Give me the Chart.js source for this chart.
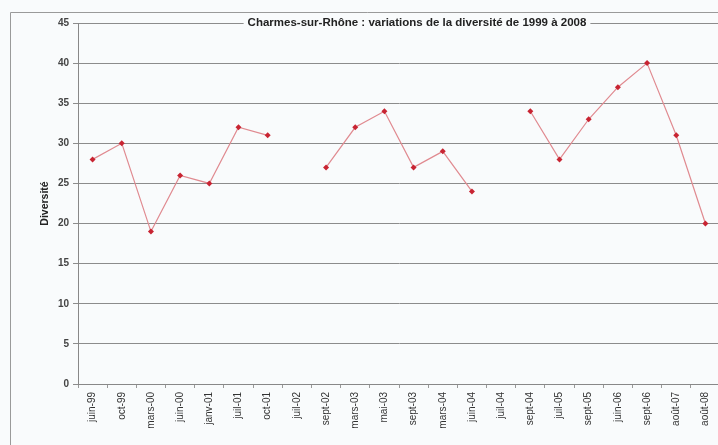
<!DOCTYPE html>
<html>
<head>
<meta charset="utf-8">
<script src="https://cdn.jsdelivr.net/npm/chart.js@4"></script>
<style>
  html, body { margin: 0; padding: 0; background: #f9fbfc; overflow: hidden; }
  #wrap { position: relative; width: 724px; height: 445px; }
</style>
</head>
<body>
<div id="wrap"><canvas id="divChart" width="724" height="445"></canvas></div>
<script>
const titleText = "Charmes-sur-Rhône : variations de la diversité de 1999 à 2008";
const yTitle = "Diversité";
const dates = ["juin-99", "oct-99", "mars-00", "juin-00", "janv-01", "juil-01", "oct-01", "juil-02",
    "sept-02", "mars-03", "mai-03", "sept-03", "mars-04", "juin-04", "juil-04", "sept-04",
    "juil-05", "sept-05", "juin-06", "sept-06", "août-07", "août-08"];
const diversite = [28, 30, 19, 26, 25, 32, 31, null, 27, 32, 34, 27, 29, 24, null, 34,
    28, 33, 37, 40, 31, 20];
const yMin = 0, yMax = 45, yStep = 5;

const bg = "#f9fbfc";
const fontFam = "'Liberation Sans', Arial, sans-serif";

// cadre gris, titre pose sur la ligne du haut, titre de l'axe Y
const frameAndTitle = {
    id: "frameAndTitle",
    beforeDraw(chart) {
        const c = chart.ctx;
        c.save();
        c.strokeStyle = "#9a9a9a";
        c.lineWidth = 1;
        c.beginPath();
        c.moveTo(10.5, 460);
        c.lineTo(10.5, 12.5);
        c.lineTo(730, 12.5);
        c.stroke();
        c.restore();
    },
    afterDraw(chart) {
        const c = chart.ctx;
        const area = chart.chartArea;
        c.save();
        c.font = "bold 11.5px " + fontFam;
        const w = c.measureText(titleText).width;
        const cx = 417, cy = area.top;
        c.fillStyle = bg;
        c.fillRect(cx - w / 2 - 4, cy - 7, w + 8, 14);
        c.fillStyle = "#222";
        c.textAlign = "center";
        c.textBaseline = "middle";
        c.fillText(titleText, cx, cy);

        c.font = "bold 10.5px " + fontFam;
        c.translate(45, (area.top + area.bottom) / 2);
        c.rotate(-Math.PI / 2);
        c.fillText(yTitle, 0, 0);
        c.restore();
    }
};

new Chart(document.getElementById("divChart").getContext("2d"), {
    type: "line",
    data: {
        labels: dates,
        datasets: [{
            label: yTitle,
            data: diversite,
            borderColor: "#e08a90",
            borderWidth: 1.2,
            pointStyle: "rectRot",
            pointRadius: 3,
            pointBackgroundColor: "#c82432",
            pointBorderColor: "#c82432",
            pointBorderWidth: 0,
            spanGaps: false,
            tension: 0
        }]
    },
    options: {
        responsive: false,
        animation: false,
        layout: { padding: { left: 10, top: 23, right: 4, bottom: 0 } },
        plugins: { legend: { display: false }, tooltip: { enabled: false } },
        scales: {
            x: {
                offset: true,
                grid: { display: true, offset: true, drawOnChartArea: false, tickLength: 4, color: "#999" },
                border: { color: "#888" },
                ticks: {
                    minRotation: 90, maxRotation: 90, autoSkip: false,
                    font: { family: fontFam, size: 10 },
                    color: "#333", padding: 4
                },
                afterFit(scale) { scale.height = 61; }
            },
            y: {
                min: yMin, max: yMax,
                ticks: {
                    stepSize: yStep,
                    font: { family: fontFam, size: 10, weight: "bold" },
                    color: "#444", padding: 4
                },
                grid: { color: "#8c8c8c", tickLength: 5 },
                border: { color: "#888" },
                afterFit(scale) { scale.width = 68; }
            }
        }
    },
    plugins: [frameAndTitle]
});
</script>
</body>
</html>
